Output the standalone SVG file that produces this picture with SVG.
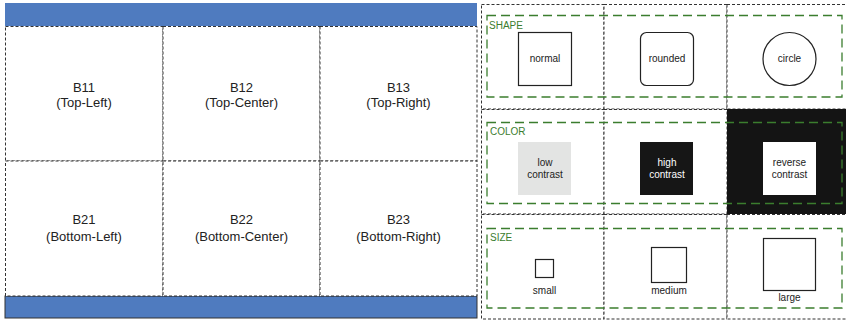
<svg xmlns="http://www.w3.org/2000/svg" width="846" height="322" viewBox="0 0 846 322">
<style>
text{font-family:"Liberation Sans",Arial,sans-serif;fill:#222;text-anchor:middle}
.cell{fill:#fff;stroke:#333;stroke-width:1;stroke-dasharray:3 2}
.big{font-size:13px}
.sm{font-size:10px}
.grp{fill:none;stroke:#3b7d2e;stroke-width:1.3;stroke-dasharray:9 5}
.glab{fill:#3b7d2e;font-size:10px;text-anchor:start}
.box{fill:#fff;stroke:#222;stroke-width:1.2}
.bar{fill:#4f7bbf}
</style>
<rect width="846" height="322" fill="#fff"/>
<g id="left-panel">
<rect class="bar" x="5" y="3" width="472" height="23"/>
<rect class="bar" x="5" y="296" width="472" height="22" stroke="#333" stroke-width="1"/>
<g id="B11"><rect class="cell" x="5.5" y="26.5" width="157.5" height="134.5"/><text class="big" x="84" y="92">B11</text><text class="big" x="84" y="107">(Top-Left)</text></g>
<g id="B12"><rect class="cell" x="163" y="26.5" width="157" height="134.5"/><text class="big" x="241.5" y="92">B12</text><text class="big" x="241.5" y="107">(Top-Center)</text></g>
<g id="B13"><rect class="cell" x="320" y="26.5" width="157" height="134.5"/><text class="big" x="398.5" y="92">B13</text><text class="big" x="398.5" y="107">(Top-Right)</text></g>
<g id="B21"><rect class="cell" x="5.5" y="161" width="157.5" height="135"/><text class="big" x="84" y="224">B21</text><text class="big" x="84" y="241">(Bottom-Left)</text></g>
<g id="B22"><rect class="cell" x="163" y="161" width="157" height="135"/><text class="big" x="241.5" y="224">B22</text><text class="big" x="241.5" y="241">(Bottom-Center)</text></g>
<g id="B23"><rect class="cell" x="320" y="161" width="157" height="135"/><text class="big" x="398.5" y="224">B23</text><text class="big" x="398.5" y="241">(Bottom-Right)</text></g>
</g>
<g id="right-panel">
<rect class="cell" x="481.5" y="4.5" width="122.5" height="104.5"/>
<rect class="cell" x="604" y="4.5" width="123" height="104.5"/>
<rect class="cell" x="727" y="4.5" width="122" height="104.5"/>
<rect class="cell" x="481.5" y="109.5" width="122.5" height="104.5"/>
<rect class="cell" x="604" y="109.5" width="123" height="104.5"/>
<rect x="727" y="109" width="119" height="105" fill="#141414"/>
<rect class="cell" x="481.5" y="214.5" width="122.5" height="104.5"/>
<rect class="cell" x="604" y="214.5" width="123" height="104.5"/>
<rect class="cell" x="727" y="214.5" width="122" height="104.5"/>
</g>
<g id="shape-group">
<rect class="grp" x="487" y="15.5" width="355" height="81.5"/>
<text class="glab" x="489" y="29">SHAPE</text>
<g id="normal"><rect class="box" x="518.5" y="32.5" width="53" height="53"/><text class="sm" x="545" y="62">normal</text></g>
<g id="rounded"><rect class="box" x="640.5" y="32.5" width="53" height="53" rx="6"/><text class="sm" x="667" y="62">rounded</text></g>
<g id="circle"><circle class="box" cx="789.5" cy="59" r="26.5"/><text class="sm" x="789.5" y="62">circle</text></g>
</g>
<g id="color-group">
<rect class="grp" x="487" y="122.5" width="355" height="81"/>
<text class="glab" x="490" y="135">COLOR</text>
<g id="low"><rect x="518" y="142" width="53" height="53" fill="#e3e4e3"/><text class="sm" x="545" y="166">low</text><text class="sm" x="545" y="178">contrast</text></g>
<g id="high"><rect x="640" y="142" width="53" height="53" fill="#161616"/><text class="sm" x="667" y="166" style="fill:#fff">high</text><text class="sm" x="667" y="178" style="fill:#fff">contrast</text></g>
<g id="reverse"><rect x="763" y="142" width="53" height="53" fill="#fff"/><text class="sm" x="789.5" y="166">reverse</text><text class="sm" x="789.5" y="178">contrast</text></g>
</g>
<g id="size-group">
<rect class="grp" x="487" y="228.5" width="355" height="79.5"/>
<text class="glab" x="490" y="241">SIZE</text>
<g id="small"><rect class="box" x="535.5" y="259.5" width="18" height="18"/><text class="sm" x="544.5" y="294">small</text></g>
<g id="medium"><rect class="box" x="651.5" y="247.5" width="35" height="35"/><text class="sm" x="669" y="294">medium</text></g>
<g id="large"><rect class="box" x="763.5" y="238.5" width="52" height="52"/><text class="sm" x="789.5" y="301">large</text></g>
</g>
</svg>
